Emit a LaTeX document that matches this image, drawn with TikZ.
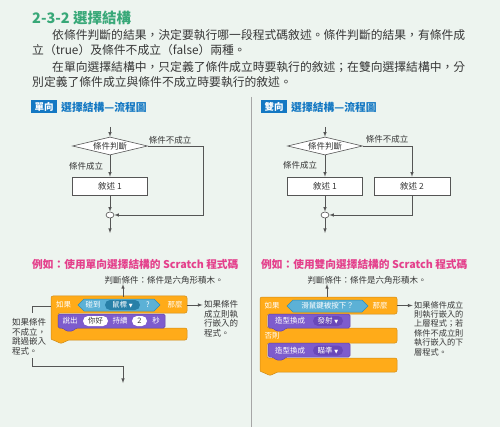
\documentclass[tikz,border=0pt]{standalone}
\usepackage{fontspec}
\setmainfont{Noto Sans CJK TC}
\newfontfamily\symfont{DejaVu Sans}
\usetikzlibrary{shapes.geometric}

\definecolor{pagebg}{RGB}{237,244,239}
\definecolor{titlegreen}{RGB}{56,168,120}
\definecolor{headblue}{RGB}{20,120,195}
\definecolor{examplepink}{RGB}{228,64,140}
\definecolor{bodygray}{RGB}{55,55,55}
\definecolor{linegray}{RGB}{85,85,85}
\definecolor{ctrlorange}{RGB}{255,171,25}
\definecolor{ctrlborder}{RGB}{207,139,23}
\definecolor{senseblue}{RGB}{92,177,214}
\definecolor{senseborder}{RGB}{46,142,184}
\definecolor{sensedark}{RGB}{40,128,168}
\definecolor{looksviolet}{RGB}{125,92,205}
\definecolor{looksborder}{RGB}{100,70,170}
\definecolor{looksdark}{RGB}{105,72,185}

\tikzset{
  flow/.style={draw=linegray, line width=0.6pt},
  stmt/.style={draw=linegray, line width=0.6pt, fill=white, minimum width=75pt,
    minimum height=18pt, inner sep=0pt, text=bodygray, font=\fontsize{8.5}{9}\selectfont},
  decision/.style={diamond, aspect=4, draw=linegray, line width=0.6pt, fill=white,
    minimum width=75pt, minimum height=18pt, inner sep=0pt, text=bodygray,
    font=\fontsize{8.5}{9}\selectfont},
  joint/.style={ellipse, draw=linegray, line width=0.6pt, fill=white,
    minimum width=8pt, minimum height=6pt, inner sep=0pt},
  lbl/.style={inner sep=0pt, text=bodygray, font=\fontsize{8.5}{9}\selectfont},
  bodytext/.style={inner sep=0pt, anchor=west, text=bodygray, font=\fontsize{11.8}{12}\selectfont},
  tag/.style={fill=headblue, text=white, inner sep=0pt, minimum width=26pt,
    minimum height=13pt, font=\bfseries\fontsize{9.5}{10}\selectfont},
  head/.style={inner sep=0pt, anchor=west, text=headblue, font=\bfseries\fontsize{10.8}{11}\selectfont},
  extitle/.style={inner sep=0pt, anchor=west, text=examplepink, font=\bfseries\fontsize{10.7}{11}\selectfont},
  note/.style={inner sep=0pt, align=left, text=bodygray, font=\fontsize{8.5}{9.7}\selectfont},
  blocktext/.style={inner sep=0pt, text=white, font=\fontsize{7.5}{8}\selectfont},
  inputoval/.style={fill=white, rounded corners=5pt, inner sep=0pt, minimum height=10pt,
    text=bodygray, font=\fontsize{7.5}{8}\selectfont},
  menuoval/.style={rounded corners=5pt, inner sep=0pt, minimum height=10pt,
    text=white, font=\fontsize{7.5}{8}\selectfont}
}

\begin{document}
\begin{tikzpicture}[x=1pt, y=-1pt]
\useasboundingbox (0,0) rectangle (500,427);
\fill[pagebg] (0,0) rectangle (500,427);

% heading and text
\node[inner sep=0pt, anchor=west, text=titlegreen, font=\bfseries\fontsize{14.5}{15}\selectfont] (title) at (32,18) {2-3-2 選擇結構};
\node[bodytext] (para1a) at (52,35) {依條件判斷的結果，決定要執行哪一段程式碼敘述。條件判斷的結果，有條件成};
\node[bodytext] (para1b) at (32,50) {立（true）及條件不成立（false）兩種。};
\node[bodytext] (para2a) at (52,67) {在單向選擇結構中，只定義了條件成立時要執行的敘述；在雙向選擇結構中，分};
\node[bodytext] (para2b) at (32,82) {別定義了條件成立與條件不成立時要執行的敘述。};

\draw[draw=gray!70, line width=0.5pt] (251,97) -- (251,427);

% single selection flowchart
\node[tag] (tagl) at (44,107) {單向};
\node[head] (headl) at (61,107) {選擇結構—流程圖};
\coordinate (inl) at (110,127);
\node[decision] (condl) at (110,146) {條件判斷};
\node[stmt] (stmtl) at (110,186) {敘述 1};
\node[joint] (joinl) at (110,215) {};
\coordinate (outl) at (110,233);
\coordinate (bendl) at (203,146);
\coordinate (bendl2) at (203,215);
\draw[flow,-latex] (inl) -- (condl);
\draw[flow,-latex] (condl) -- (stmtl);
\draw[flow,-latex] (stmtl) -- (joinl);
\draw[flow,-latex] (joinl) -- (outl);
\draw[flow,-latex] (condl.east) -- (bendl) -- (bendl2) -- (joinl);
\node[lbl] (nol) at (170,140) {條件不成立};
\node[lbl] (yesl) at (86,166) {條件成立};

% double selection flowchart
\node[tag] (tagr) at (274,107) {雙向};
\node[head] (headr) at (291,107) {選擇結構—流程圖};
\coordinate (inr) at (325,127);
\node[decision] (condr) at (325,146) {條件判斷};
\node[stmt] (stmtr) at (325,186) {敘述 1};
\node[stmt, minimum width=76pt] (stmtr2) at (412,186) {敘述 2};
\node[joint] (joinr) at (325,215) {};
\coordinate (outr) at (325,233);
\draw[flow,-latex] (inr) -- (condr);
\draw[flow,-latex] (condr) -- (stmtr);
\draw[flow,-latex] (stmtr) -- (joinr);
\draw[flow,-latex] (joinr) -- (outr);
\draw[flow,-latex] (condr.east) -| (stmtr2);
\draw[flow,-latex] (stmtr2) |- (joinr);
\node[lbl] (nor) at (387,139) {條件不成立};
\node[lbl] (yesr) at (300,165) {條件成立};

% single selection scratch
\node[extitle] (exl) at (32,264) {例如：使用單向選擇結構的 Scratch 程式碼};
\node[lbl] (capl) at (164,280) {判斷條件：條件是六角形積木。};
\filldraw[fill=ctrlorange, draw=ctrlborder, line width=0.5pt, rounded corners=2pt]
  (51,296) -- (187,296) -- (187,313) -- (58,313) -- (58,328) -- (187,328) -- (187,340)
  -- (67,340) -- (64,343) -- (58,343) -- (55,340) -- (51,340) -- cycle;
\filldraw[fill=looksviolet, draw=looksborder, line width=0.5pt, rounded corners=1.5pt]
  (58,314) -- (165,314) -- (165,328) -- (76,328) -- (73,331) -- (66,331) -- (63,328) -- (58,328) -- cycle;
\filldraw[fill=senseblue, draw=senseborder, line width=0.5pt]
  (78,305) -- (84,299) -- (154,299) -- (160,305) -- (154,311) -- (84,311) -- cycle;
\node[blocktext] (ifl) at (63.5,305) {如果};
\node[blocktext] (thenwl) at (175,305) {那麼};
\node[blocktext] (touchl) at (93,305) {碰到};
\node[menuoval, fill=sensedark, minimum width=35pt] (mousel) at (122.5,305) {鼠標 {\symfont\fontsize{5}{5}\selectfont ▼}};
\node[blocktext] (askl) at (148,305) {?};
\node[blocktext] (sayl) at (70,321) {說出};
\node[inputoval, minimum width=25pt] (msgl) at (95.5,321) {你好};
\node[blocktext] (forl) at (120,321) {持續};
\node[inputoval, minimum width=15pt] (secsl) at (139.5,321) {2};
\node[blocktext] (unitl) at (156,321) {秒};

\coordinate (thenl) at (187,305);
\coordinate (hexl) at (123,297);
\node[note, anchor=north west] (notel) at (204,300) {如果條件\\成立則執\\行嵌入的\\程式。};
\node[note, anchor=north west] (skipl) at (12,318) {如果條件\\不成立，\\跳過嵌入\\程式。};
\draw[flow,-latex] (hexl) -- (hexl |- capl.south);
\draw[flow,-latex, shorten >=1.5pt] (thenl) -- (notel.north west |- thenl);
\coordinate (skipa) at (51,306);
\coordinate (skipb) at (32,306);
\coordinate (skipc) at (32,313);
\coordinate (skipd) at (32,358);
\coordinate (skipe) at (32,366);
\coordinate (skipf) at (123,366);
\coordinate (skipg) at (123,383);
\draw[flow] (skipa) -- (skipb) -- (skipc);
\draw[flow,-latex] (skipd) -- (skipe) -- (skipf) -- (skipg);

% double selection scratch
\node[extitle] (exr) at (261,264) {例如：使用雙向選擇結構的 Scratch 程式碼};
\node[lbl] (capr) at (367,280) {判斷條件：條件是六角形積木。};
\filldraw[fill=ctrlorange, draw=ctrlborder, line width=0.5pt, rounded corners=2pt]
  (260,297) -- (397,297) -- (397,314) -- (267,314) -- (267,328) -- (397,328) -- (397,343)
  -- (267,343) -- (267,358) -- (397,358) -- (397,372)
  -- (276,372) -- (273,375) -- (267,375) -- (264,372) -- (260,372) -- cycle;
\foreach \ytop in {314,343}
  \filldraw[fill=looksviolet, draw=looksborder, line width=0.5pt, rounded corners=1.5pt]
    (268,\ytop) -- (350,\ytop) -- (350,\ytop+14) -- (286,\ytop+14) -- (283,\ytop+17)
    -- (276,\ytop+17) -- (273,\ytop+14) -- (268,\ytop+14) -- cycle;
\filldraw[fill=senseblue, draw=senseborder, line width=0.5pt]
  (287,306) -- (293,300) -- (362,300) -- (368,306) -- (362,312) -- (293,312) -- cycle;
\node[blocktext] (ifr) at (272,305.5) {如果};
\node[blocktext] (thenwr) at (380,305.5) {那麼};
\node[blocktext] (pressr) at (327.5,306) {滑鼠鍵被按下？};
\node[blocktext] (elser) at (272,335.5) {否則};
\node[blocktext] (costr) at (290,321) {造型換成};
\node[menuoval, fill=looksdark, minimum width=30pt] (firer) at (328,321) {發射 {\symfont\fontsize{5}{5}\selectfont ▼}};
\node[blocktext] (costr2) at (290,350.5) {造型換成};
\node[menuoval, fill=looksdark, minimum width=30pt] (aimr) at (328,350.5) {瞄準 {\symfont\fontsize{5}{5}\selectfont ▼}};

\coordinate (thenr) at (397,305.5);
\coordinate (hexr) at (327,297);
\node[note, anchor=north west, font=\fontsize{8.2}{9.4}\selectfont] (noter) at (414,301) {如果條件成立\\則執行嵌入的\\上層程式；若\\條件不成立則\\執行嵌入的下\\層程式。};
\draw[flow,-latex] (hexr) -- (hexr |- capr.south);
\draw[flow,-latex, shorten >=1.5pt] (thenr) -- (noter.north west |- thenr);
\end{tikzpicture}
\end{document}
